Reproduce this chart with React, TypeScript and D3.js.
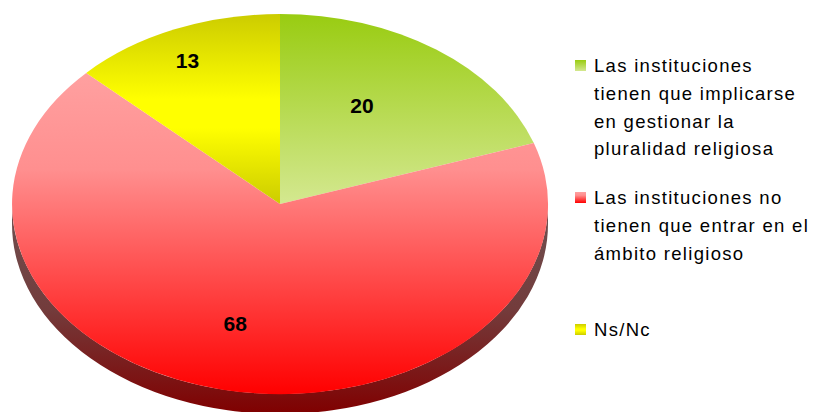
import React from "react";
import * as d3 from "d3";

// ---- data ----
const categories = [
  "Las instituciones tienen que implicarse en gestionar la pluralidad religiosa",
  "Las instituciones no tienen que entrar en el ámbito religioso",
  "Ns/Nc",
];
const values = [20, 68, 13];
const legendLines = [
  ["Las instituciones", "tienen que implicarse", "en gestionar la", "pluralidad religiosa"],
  ["Las instituciones no", "tienen que entrar en el", "ámbito religioso"],
  ["Ns/Nc"],
];

// ---- styles ----
const W = 814;
const H = 412;
const CX = 280;
const CY = 204;
const RX = 268;
const RY = 190;
const DEPTH = 20;
const labelRadius = [0.6, 0.65, 0.83];
const labelSpanFrac = [0.43, 0.51, 0.47];
const gradients = [
  [
    { o: 0, c: "#99cc11" },
    { o: 1, c: "#d4e890" },
  ],
  [
    { o: 0, c: "#ffa0a0" },
    { o: 0.3, c: "#ff8f8f" },
    { o: 1, c: "#ff0000" },
  ],
  [
    { o: 0, c: "#cccc00" },
    { o: 0.45, c: "#ffff00" },
    { o: 0.6, c: "#ffff00" },
    { o: 1, c: "#cccc00" },
  ],
];
const FONT = "Arial, 'Liberation Sans', sans-serif";

export default function App() {
  const pie = d3
    .pie<number>()
    .sort(null)
    .value((d) => d)
    .startAngle(0)
    .endAngle(2 * Math.PI);
  const arcs = pie(values);
  const arc = d3.arc<d3.PieArcDatum<number>>().innerRadius(0).outerRadius(1);

  const sidePath =
    `M${CX + RX},${CY} A${RX},${RY} 0 0 1 ${CX - RX},${CY} ` +
    `L${CX - RX},${CY + DEPTH} A${RX},${RY} 0 0 0 ${CX + RX},${CY + DEPTH} Z`;

  const legendX = 575;
  const legendTextX = 594;
  const legendTop = 72;
  const legendStep = 132;
  const lineH = 27.8;

  return (
    <svg
      width={W}
      height={H}
      style={{ position: "absolute", left: 0, top: 0, background: "#fff" }}
    >
      <defs>
        {gradients.map((g, i) => (
          <linearGradient key={i} id={`g${i}`} x1="0" y1="0" x2="0" y2="1">
            {g.map((s, j) => (
              <stop key={j} offset={s.o} stopColor={s.c} />
            ))}
          </linearGradient>
        ))}
        <linearGradient id="side" x1="0" y1="0" x2="0" y2="1">
          <stop offset="0" stopColor="#6e5050" />
          <stop offset="0.5" stopColor="#733c3c" />
          <stop offset="1" stopColor="#800000" />
        </linearGradient>
      </defs>

      <path d={sidePath} fill="url(#side)" />

      <g transform={`translate(${CX},${CY}) scale(${RX},${RY})`}>
        {arcs.map((a, i) => (
          <path key={i} d={arc(a) || ""} fill={`url(#g${i})`} />
        ))}
      </g>

      {arcs.map((a, i) => {
        const m = a.startAngle + (a.endAngle - a.startAngle) * labelSpanFrac[i];
        const x = CX + labelRadius[i] * RX * Math.sin(m);
        const y = CY - labelRadius[i] * RY * Math.cos(m);
        return (
          <text
            key={i}
            x={x}
            y={y}
            dy="0.36em"
            textAnchor="middle"
            fontFamily={FONT}
            fontWeight="bold"
            fontSize={21}
            fill="#000"
          >
            {d3.format("d")(a.data)}
          </text>
        );
      })}

      {categories.map((c, i) => {
        const base = legendTop + i * legendStep;
        return (
          <g key={c}>
            <rect
              x={legendX}
              y={base - 12}
              width={11}
              height={11}
              fill={`url(#g${i})`}
            />
            <text
              fontFamily={FONT}
              fontSize={18.5}
              letterSpacing={1.3}
              fill="#000"
            >
              {legendLines[i].map((l, k) => (
                <tspan key={k} x={legendTextX} y={base + k * lineH}>
                  {l}
                </tspan>
              ))}
            </text>
          </g>
        );
      })}
    </svg>
  );
}
